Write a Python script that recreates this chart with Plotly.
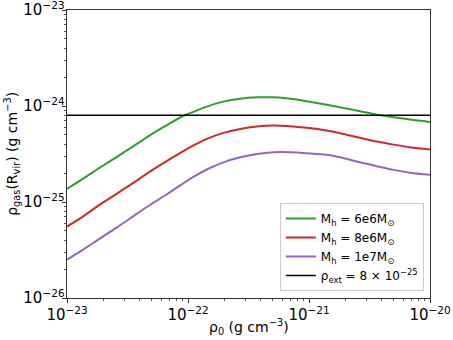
import plotly.graph_objects as go

# central density rho_0 (g cm^-3)
rho0 = [1.0e-23, 1.35e-23, 1.85e-23, 2.55e-23, 3.5e-23, 4.8e-23, 6.6e-23, 9.0e-23,
        1.04e-22, 1.43e-22, 1.96e-22, 2.7e-22, 3.7e-22, 5.1e-22, 7.0e-22, 9.6e-22,
        1.4e-21, 1.92e-21, 2.64e-21, 3.63e-21, 5.0e-21, 6.84e-21, 1.0e-20]

# gas density at R_vir for each halo mass
rho_6e6 = [1.37e-25, 1.74e-25, 2.26e-25, 2.92e-25, 3.78e-25, 4.92e-25, 6.25e-25, 7.82e-25,
           8.43e-25, 9.86e-25, 1.11e-24, 1.19e-24, 1.23e-24, 1.23e-24, 1.19e-24, 1.12e-24,
           1.03e-24, 9.55e-25, 8.81e-25, 8.13e-25, 7.62e-25, 7.22e-25, 6.83e-25]
rho_8e6 = [5.55e-26, 7.05e-26, 9.33e-26, 1.21e-25, 1.57e-25, 2.06e-25, 2.65e-25, 3.35e-25,
           3.72e-25, 4.54e-25, 5.25e-25, 5.77e-25, 6.10e-25, 6.25e-25, 6.14e-25, 5.92e-25,
           5.55e-25, 5.12e-25, 4.66e-25, 4.26e-25, 3.96e-25, 3.72e-25, 3.52e-25]
rho_1e7 = [2.51e-26, 3.17e-26, 4.13e-26, 5.37e-26, 7.05e-26, 9.25e-26, 1.19e-25, 1.54e-25,
           1.74e-25, 2.18e-25, 2.59e-25, 2.92e-25, 3.17e-25, 3.30e-25, 3.30e-25, 3.22e-25,
           3.10e-25, 2.88e-25, 2.59e-25, 2.36e-25, 2.16e-25, 2.02e-25, 1.92e-25]

rho_ext = 8e-25
x_range = [1e-23, 1e-20]

names = ["M<sub>h</sub> = 6e6M<sub>⊙</sub>",
         "M<sub>h</sub> = 8e6M<sub>⊙</sub>",
         "M<sub>h</sub> = 1e7M<sub>⊙</sub>"]
colors = ["#2ca02c", "#d62728", "#9467bd"]

fig = go.Figure()
for ys, name, c in zip([rho_6e6, rho_8e6, rho_1e7], names, colors):
    fig.add_trace(go.Scatter(x=rho0, y=ys, mode="lines", name=name,
                             line=dict(color=c, width=2, shape="spline", smoothing=0.8)))

fig.add_trace(go.Scatter(x=x_range, y=[rho_ext, rho_ext], mode="lines",
                         name="ρ<sub>ext</sub> = 8 × 10<sup>−25</sup>",
                         line=dict(color="black", width=1.5)))

axis_common = dict(type="log", showgrid=False, zeroline=False,
                   showline=True, linecolor="#333", linewidth=1, mirror=True,
                   ticks="outside", ticklen=4, tickcolor="#333",
                   exponentformat="power", dtick=1, automargin=False,
                   ticklabeloverflow="allow",
                   minor=dict(ticks="outside", ticklen=2, tickcolor="#555", dtick="D1", showgrid=False),
                   tickfont=dict(size=12, color="black"))

fig.update_xaxes(range=[-23, -20], **axis_common)
fig.update_yaxes(range=[-26, -23], ticklabelstandoff=-5, **axis_common)

# axis titles as annotations so they sit where the original has them
fig.add_annotation(text="ρ<sub>0</sub> (g cm<sup>−3</sup>)", xref="paper", yref="paper",
                   x=0.5, y=-0.1, xanchor="center", yanchor="middle",
                   showarrow=False, font=dict(size=14))
fig.add_annotation(text="ρ<sub>gas</sub>(R<sub>vir</sub>) (g cm<sup>−3</sup>)", xref="paper", yref="paper",
                   x=-0.152, y=0.5, xanchor="center", yanchor="middle", textangle=-90,
                   showarrow=False, font=dict(size=14))

fig.update_layout(
    width=453, height=340,
    margin=dict(l=67, r=23, t=10, b=42),
    plot_bgcolor="white", paper_bgcolor="white",
    font=dict(family="DejaVu Sans", color="black"),
    legend=dict(x=0.983, y=0.024, xanchor="right", yanchor="bottom",
                bgcolor="white", bordercolor="#ccc", borderwidth=1,
                font=dict(size=12), tracegroupgap=0),
)

# drop the browser's default body margin so the figure starts at the top-left corner
fig.write_html("out.html", config={"displayModeBar": False},
               post_script="document.body.style.margin='0';")
